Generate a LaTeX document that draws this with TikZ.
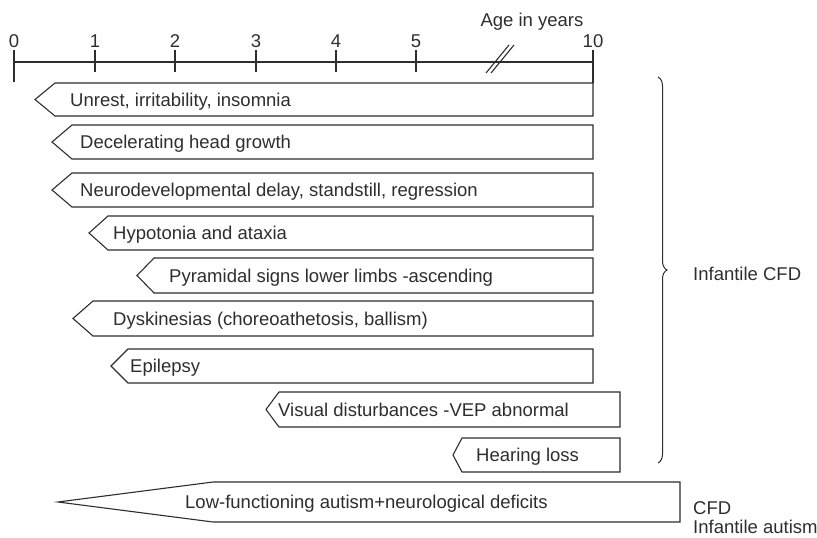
\documentclass[tikz,border=0pt]{standalone}
\usepackage{fontspec}
\setmainfont{Liberation Sans}
\usepackage{tikz}
\usetikzlibrary{decorations.pathreplacing}
\definecolor{ink}{gray}{0.18}
\tikzstyle{bar} = [draw=ink, line width=1.1pt, fill=white, line join=miter]
\tikzstyle{bartext} = [inner sep=0pt, text=ink, anchor=base west]
\tikzstyle{axis} = [draw=ink, line width=1.1pt]
\tikzstyle{tick} = [inner sep=0pt, text=ink, anchor=base]
% one bar: name, tip x, body x, right x, top y, bottom y, text x, text
\newcommand{\agebar}[8]{%
    \draw [bar] (#2,{(#5+#6)/2}) -- (#3,#5) -- (#4,#5) -- (#4,#6) -- (#3,#6) -- cycle;
    \node [bartext] (#1) at (#7,{(#5+#6)/2+6.6}) {#8};
}

\begin{document}
\begin{tikzpicture}[x=1pt, y=-1pt, font=\fontsize{18.5}{22}\selectfont]
    \useasboundingbox (0,0) rectangle (817,538);
    % Axis
    \draw [axis] (14,62) -- (593,62);
    \draw [axis] (14,50) -- (14,82);
    \foreach \x/\yr in {14/0, 95/1, 175/2, 256/3, 336/4, 416/5} {
        \node [tick] (yr\yr) at (\x,47) {\yr};
    }
    \foreach \x in {95, 175, 256, 336, 416} {
        \draw [axis] (\x,50) -- (\x,72);
    }
    \node [tick] (yr10) at (593,47) {10};
    \draw [axis] (593,50) -- (593,83);
    \draw [axis] (486,73) -- (509,45);
    \draw [axis] (491,73) -- (514,45);
    \node [tick] (age) at (532,26) {Age in years};
    % Bars
    \agebar{unrest}{35}{55}{593}{83}{116}{70}{Unrest, irritability, insomnia}
    \agebar{head}{52}{72}{593}{125}{159}{80}{Decelerating head growth}
    \agebar{delay}{52}{72}{593}{173}{207}{80}{Neurodevelopmental delay, standstill, regression}
    \agebar{hypotonia}{89}{108}{593}{216}{250}{113}{Hypotonia and ataxia}
    \agebar{pyramidal}{137}{154}{593}{258}{293}{169}{Pyramidal signs lower limbs -ascending}
    \agebar{dyskinesia}{73}{93}{593}{301}{336}{113}{Dyskinesias (choreoathetosis, ballism)}
    \agebar{epilepsy}{111}{128}{593}{349}{383}{130}{Epilepsy}
    \agebar{visual}{266}{279}{620}{392}{427}{278}{Visual disturbances -VEP abnormal}
    \agebar{hearing}{453}{462}{620}{438}{472}{476}{Hearing loss}
    \agebar{autism}{58}{213}{680}{482}{522}{185}{Low-functioning autism+neurological deficits}
    % Groups
    \draw [axis, line width=1pt, decorate, decoration={brace, amplitude=9pt}] (658,77) -- (658,463);
    \node [bartext] (infcfd) at (693,280) {Infantile CFD};
    \node [bartext] (cfd) at (693,514) {CFD};
    \node [bartext] (infaut) at (693,533) {Infantile autism};
\end{tikzpicture}
\end{document}
